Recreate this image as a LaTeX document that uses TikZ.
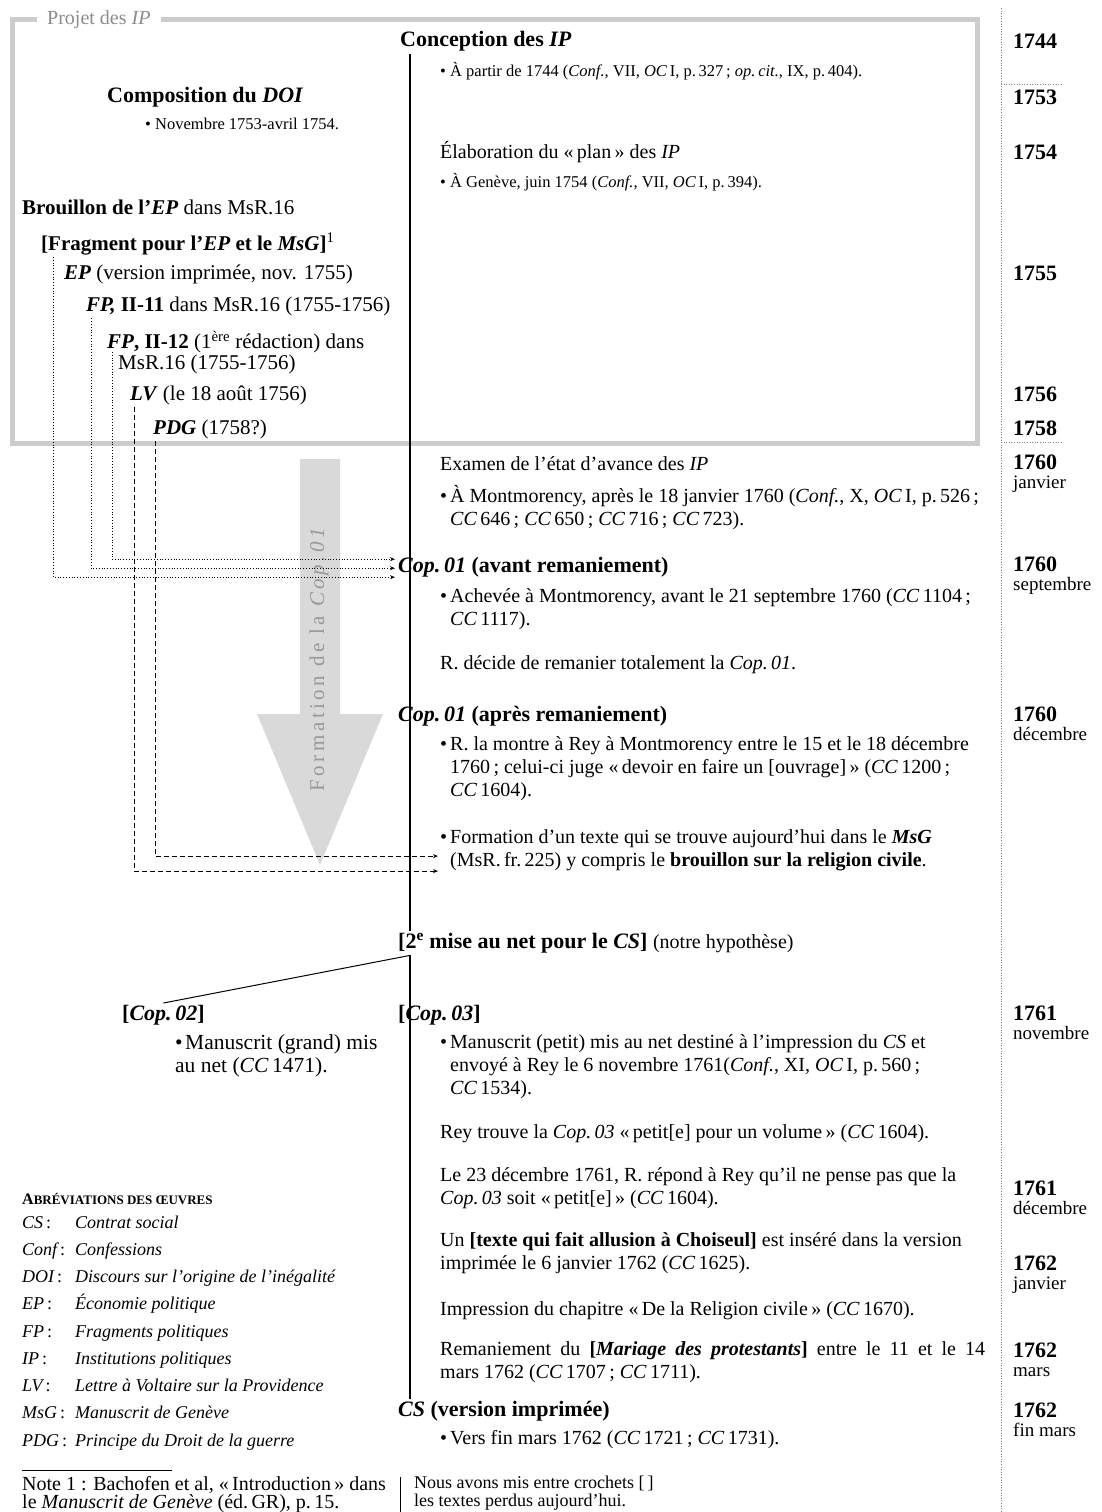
\documentclass[tikz,border=0pt]{standalone}
\usepackage{fontspec}
\setmainfont{Liberation Serif}
\usetikzlibrary{arrows.meta}

\newcommand\bodysize{\fontsize{20}{23}\selectfont}
\newcommand\smallsize{\fontsize{16.5}{20}\selectfont}
\newcommand\headsize{\fontsize{22}{24}\selectfont\bfseries}
\newcommand\leftsize{\fontsize{21}{21}\selectfont}
\newcommand\bul{\makebox[10pt][l]{\textbullet}}
\newcommand\ind{\hspace*{10pt}}

\begin{document}
\begin{tikzpicture}[x=1pt, y=-1pt,
    % texte courant, ancré en haut à gauche
    txt/.style={anchor=north west, align=left, inner sep=0pt, font=\bodysize, execute at begin node=\strut},
    small/.style={txt, font=\smallsize},
    head/.style={txt, font=\headsize},
    lft/.style={txt, font=\leftsize},
    yr/.style={anchor=north west, align=left, inner sep=0pt, font=\fontsize{19}{18.5}\selectfont},
    ab/.style={anchor=base west, inner sep=0pt, font=\fontsize{18}{20}\selectfont\itshape},
    dotlink/.style={dotted, line width=0.8pt, -{Stealth[length=5pt,width=4pt]}},
    dashlink/.style={dash pattern=on 5pt off 3pt, line width=0.8pt, -{Stealth[length=5pt,width=4pt]}},
    axe/.style={line width=1.6pt},
    guide/.style={dotted, gray, line width=0.6pt}
]
    \useasboundingbox (0,0) rectangle (1101,1512);

    % cadre du projet des IP
    \draw[gray!40, line width=5pt] (12,20) rectangle (977,443);
    \node[anchor=west, fill=white, inner xsep=10pt, inner ysep=2pt, text=gray!90, font=\bodysize] (projet) at (37,20) {Projet des \textit{IP}};

    % grande flèche grise
    \fill[gray!30] (300,459) -- (340,459) -- (340,714) -- (383,714) -- (320,865) -- (257,714) -- (300,714) -- cycle;
    \node[rotate=90, text=gray!80, font=\fontsize{21}{22}\selectfont\addfontfeature{LetterSpace=17}] (formlbl) at (319,658) {Formation de la \textit{Cop.\,01}};

    % colonne des dates
    \draw[guide] (1001,8) -- (1001,1512);
    \draw[guide] (1001,84) -- (1063,84);
    \draw[guide] (1001,442) -- (1063,442);
    \foreach \yy/\mm/\p [count=\i] in {1744//43, 1753//99, 1754//154, 1755//275, 1756//396, 1758//430,
        1760/janvier/464, 1760/septembre/566, 1760/décembre/716, 1761/novembre/1015,
        1761/décembre/1190, 1762/janvier/1265, 1762/mars/1352, 1762/fin mars/1412}
        \node[yr] (date\i) at (1013,\p-9) {\textbf{\fontsize{22}{18.5}\selectfont\yy}\\\mm};

    % colonne principale
    \node[head] (concep) at (400,30) {Conception des \textit{IP}};
    \node[small] (concepA) at (440,62) {\bul À partir de 1744 (\textit{Conf.}, VII, \textit{OC}\,I, p.\,327\,; \textit{op.\,cit.}, IX, p.\,404).};
    \node[txt] (plan) at (440,141) {Élaboration du «\,plan\,» des \textit{IP}};
    \node[small] (planA) at (440,173) {\bul À Genève, juin 1754 (\textit{Conf.}, VII, \textit{OC}\,I, p.\,394).};
    \node[txt] (exam) at (440,454) {Examen de l’état d’avance des \textit{IP}};
    \node[txt] (examA) at (440,485) {\bul À Montmorency, après le 18 janvier 1760 (\textit{Conf.}, X, \textit{OC}\,I, p.\,526\,;\\
        \ind\textit{CC}\,646\,; \textit{CC}\,650\,; \textit{CC}\,716\,; \textit{CC}\,723).};
    \node[head] (copA) at (398,555) {\textit{Cop.\,01} (avant remaniement)};
    \node[txt] (copAa) at (440,588) {\bul Achevée à Montmorency, avant le 21 septembre 1760 (\textit{CC}\,1104\,;\\
        \ind\textit{CC}\,1117).};
    \node[txt] (decide) at (440,653) {R. décide de remanier totalement la \textit{Cop.\,01}.};
    \node[head] (copB) at (398,704) {\textit{Cop.\,01} (après remaniement)};
    \node[txt] (copBa) at (440,736) {\bul R. la montre à Rey à Montmorency entre le 15 et le 18 décembre\\
        \ind 1760\,; celui-ci juge «\,devoir en faire un [ouvrage]\,» (\textit{CC}\,1200\,;\\
        \ind\textit{CC}\,1604).};
    \node[txt] (form) at (440,829) {\bul Formation d’un texte qui se trouve aujourd’hui dans le \textbf{\textit{MsG}}\\
        \ind(MsR.\,fr.\,225) y compris le \textbf{brouillon sur la religion civile}.};
    \node[head] (mise) at (398,931) {[2\textsuperscript{e} mise au net pour le \textit{CS}] {\bodysize\mdseries (notre hypothèse)}};
    \node[head] (copC) at (398,1003) {[\textit{Cop.\,03}]};
    \node[txt] (copCa) at (440,1034) {\bul Manuscrit (petit) mis au net destiné à l’impression du \textit{CS} et\\
        \ind envoyé à Rey le 6 novembre 1761(\textit{Conf.}, XI, \textit{OC}\,I, p.\,560\,;\\
        \ind\textit{CC}\,1534).};
    \node[txt] (rey) at (440,1122) {Rey trouve la \textit{Cop.\,03} «\,petit[e] pour un volume\,» (\textit{CC}\,1604).};
    \node[txt] (repond) at (440,1167) {Le 23 décembre 1761, R. répond à Rey qu’il ne pense pas que la\\
        \textit{Cop.\,03} soit «\,petit[e]\,» (\textit{CC}\,1604).};
    \node[txt] (choiseul) at (440,1232) {Un \textbf{[texte qui fait allusion à Choiseul]} est inséré dans la version\\
        imprimée le 6 janvier 1762 (\textit{CC}\,1625).};
    \node[txt] (impr) at (440,1299) {Impression du chapitre «\,De la Religion civile\,» (\textit{CC}\,1670).};
    \node[txt] (mariage) at (440,1341) {\makebox[545pt][s]{Remaniement du \textbf{[\textit{Mariage des protestants}]} entre le 11 et le 14}\\
        mars 1762 (\textit{CC}\,1707\,; \textit{CC}\,1711).};
    \node[head] (cs) at (398,1399) {\textit{CS} (version imprimée)};
    \node[txt] (csa) at (440,1428) {\bul Vers fin mars 1762 (\textit{CC}\,1721\,; \textit{CC}\,1731).};

    % ligne du temps
    \coordinate (ax) at (410,0);
    \draw[axe] (concep.south -| ax) -- (mise.north -| ax);
    \draw[axe] (mise.south -| ax) -- (cs.north -| ax);

    % colonne de gauche
    \node[head] (doi) at (107,86) {Composition du \textit{DOI}};
    \node[small] (doia) at (145,115) {\bul Novembre 1753-avril 1754.};
    \node[lft] (brou) at (22,200) {\textbf{Brouillon de l’\textit{EP}} dans MsR.16};
    \node[lft] (frag) at (41,233) {\textbf{[Fragment pour l’\textit{EP} et le \textit{MsG}]}\textsuperscript{1}};
    \node[lft] (ep) at (64,265) {\textbf{\textit{EP}} (version imprimée, nov. 1755)};
    \node[lft] (fpa) at (86,297) {\textbf{\textit{FP,} II-11} dans MsR.16 (1755-1756)};
    \node[lft] (fpb) at (107,331) {\textbf{\textit{FP}, II-12} (1\textsuperscript{ère} rédaction) dans\\
        \hspace*{11pt}MsR.16 (1755-1756)};
    \node[lft] (lv) at (130,386) {\textbf{\textit{LV}} (le 18 août 1756)};
    \node[lft] (pdg) at (153,420) {\textbf{\textit{PDG}} (1758?)};

    % vers la Cop. 01
    \draw[dotlink] ([xshift=12pt]frag.south west) |- ([xshift=-3pt,yshift=-10pt]copA.west);
    \draw[dotlink] ([xshift=5pt]fpa.south west) |- ([xshift=-3pt,yshift=-1pt]copA.west);
    \draw[dotlink] ([xshift=5pt,yshift=-21pt]fpb.north west) |- ([xshift=-3pt,yshift=8pt]copA.west);
    \draw[dashlink] ([xshift=4pt]lv.south west) |- ([xshift=-2pt,yshift=-20pt]form.west);
    \draw[dashlink] ([xshift=2pt]pdg.south west) |- ([xshift=-2pt,yshift=-5pt]form.west);

    % copie perdue
    \node[head] (cop2) at (122,1003) {[\textit{Cop.\,02}]};
    \node[txt, font=\fontsize{21.5}{23}\selectfont] (cop2a) at (175,1034) {\bul Manuscrit (grand) mis\\au net (\textit{CC}\,1471).};
    \draw[line width=1pt] (mise.south -| ax) -- (cop2.north);

    % abréviations
    \node[anchor=base west, inner sep=0pt, font=\fontsize{16}{16}\selectfont\bfseries] (abtitle) at (22,1204)
        {A{\fontsize{13}{13}\selectfont BRÉVIATIONS DES ŒUVRES}};
    \foreach \ab/\nm [count=\i] in {CS/Contrat social, Conf/Confessions, DOI/Discours sur l’origine de l’inégalité,
        EP/Économie politique, FP/Fragments politiques, IP/Institutions politiques,
        LV/Lettre à Voltaire sur la Providence, MsG/Manuscrit de Genève, PDG/Principe du Droit de la guerre}
    {
        \node[ab] (ab\i) at (22,1200.75+27.25*\i) {\ab\upshape\,:};
        \node[ab] (nm\i) at (75,1200.75+27.25*\i) {\nm};
    }

    % notes
    \draw[line width=0.6pt] (22,1470) -- (172,1470);
    \node[txt, font=\fontsize{20}{18}\selectfont] (note) at (22,1476)
        {Note 1 : Bachofen et al, «\,Introduction\,» dans\\le \textit{Manuscrit de Genève} (éd.\,GR), p.\,15.};
    \draw[line width=0.8pt] (400,1477) -- (400,1512);
    \node[txt, font=\fontsize{18}{18}\selectfont] (crochets) at (414,1476)
        {Nous avons mis entre crochets [\,]\\les textes perdus aujourd’hui.};
\end{tikzpicture}
\end{document}
